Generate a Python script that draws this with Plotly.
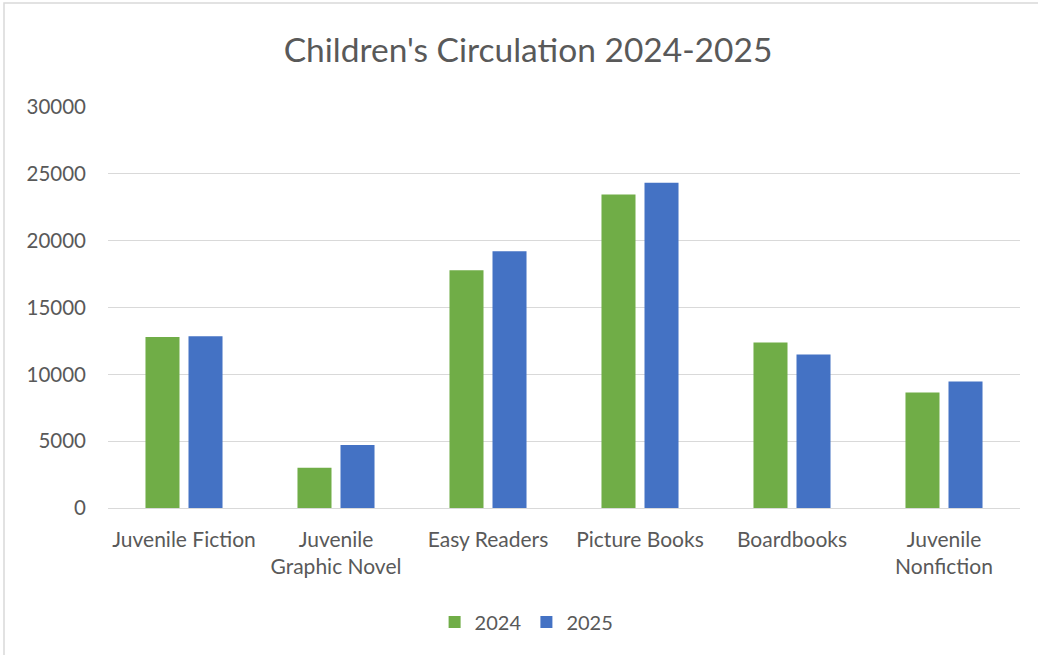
import plotly.graph_objects as go

categories = ["Juvenile Fiction", "Juvenile<br>Graphic Novel", "Easy Readers",
              "Picture Books", "Boardbooks", "Juvenile<br>Nonfiction"]
values_2024 = [12790, 3020, 17790, 23460, 12390, 8640]
values_2025 = [12840, 4720, 19210, 24330, 11490, 9470]
series_names = ["2024", "2025"]
y_ticks = [0, 5000, 10000, 15000, 20000, 25000, 30000]

FONT = "Lato"
TXT = "#595959"
W, H = 1038, 655
L, R, T, B = 108, 18, 107, 147
pw, ph = W - L - R, H - T - B

fig = go.Figure()
fig.add_trace(go.Bar(name=series_names[0], x=categories, y=values_2024,
                     marker=dict(color="#70AD47", line=dict(width=0))))
fig.add_trace(go.Bar(name=series_names[1], x=categories, y=values_2025,
                     marker=dict(color="#4472C4", line=dict(width=0))))

fig.update_layout(
    width=W, height=H,
    margin=dict(l=L, r=R, t=T, b=B, pad=0),
    paper_bgcolor="white", plot_bgcolor="white",
    barmode="group", bargap=0.434, bargroupgap=0.209,
    font=dict(family=FONT, color=TXT, size=20),
    title=dict(text="Children's Circulation 2024-2025", x=528 / W, xanchor="center",
               y=1 - 50 / H, yanchor="middle",
               font=dict(family=FONT, size=33.5, color=TXT)),
    xaxis=dict(showgrid=False, showline=False, ticks="", tickfont=dict(size=21, color=TXT),
               ticklabelstandoff=17),
    yaxis=dict(range=[0, 30000], tickvals=y_ticks, tickformat="d",
               showgrid=True, gridcolor="#d9d9d9", gridwidth=1,
               zeroline=True, zerolinecolor="#d9d9d9", zerolinewidth=1,
               showline=False, ticks="", tickfont=dict(size=20.5, color=TXT),
               ticklabelstandoff=21),
    legend=dict(orientation="h", x=0.459, xanchor="center", y=-(622 - (T + ph)) / ph,
                yanchor="middle", font=dict(size=20, color=TXT),
                itemwidth=30, traceorder="normal"),
    showlegend=True,
)

# outer chart border (light gray)
fig.add_shape(type="rect", xref="paper", yref="paper",
              x0=(4 - L) / pw, x1=(1045 - L) / pw,
              y0=(T + ph - 665) / ph, y1=(T + ph - 3) / ph,
              line=dict(color="#d9d9d9", width=1.5), fillcolor="rgba(0,0,0,0)",
              layer="below")

fig.write_html("out.html")
